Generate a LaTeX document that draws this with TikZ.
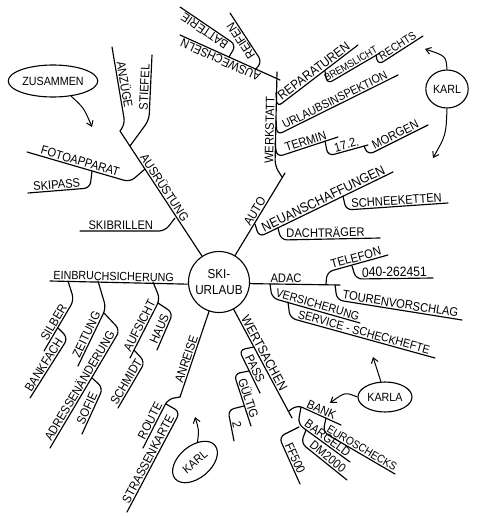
\documentclass[tikz,border=0pt]{standalone}
\usepackage{fontspec}
\setmainfont{Liberation Sans}[FakeStretch=0.9]
\usetikzlibrary{shapes.geometric,arrows.meta}
\tikzset{
  ln/.style={line width=1.15pt, line cap=round, line join=round, rounded corners=6pt},
  lab/.style={sloped, above, inner sep=1.2pt, font=\fontsize{#1}{#1}\selectfont},
  lab/.default=12.4,
  bub/.style={ellipse, draw, line width=1.1pt, inner sep=1pt, font=\fontsize{11.9}{11.9}\selectfont},
  arr/.style={line width=1pt, -{Straight Barb[length=5pt,width=7pt]}},
}
\begin{document}
\begin{tikzpicture}[x=1pt,y=-1pt]
\useasboundingbox (0,0) rectangle (477,516);
\node[circle, draw, line width=1.1pt, minimum size=61pt, inner sep=0pt, align=center,
      font=\fontsize{13}{16}\selectfont] (C) at (219,282) {SKI-\\URLAUB};

% ---------- AUSRUESTUNG ----------
\coordinate (ausT) at (120,131);
\draw[ln] (ausT) -- node[lab,pos=0.48] (tAus) {AUSRÜSTUNG} (C);
\coordinate (anzE) at (112,47); \coordinate (anzP) at (125,124);
\draw[ln] (anzE) -- node[lab] (tAnz) {ANZÜGE} (anzP) -- (ausT);
\coordinate (stiE) at (152,55); \coordinate (stiP) at (149,120); \coordinate (stiJ) at (130,146);
\draw[ln] (stiE) -- node[lab] (tSti) {STIEFEL} (stiP) -- (stiJ);
\coordinate (fotE) at (27,152); \coordinate (fotP) at (130,182); \coordinate (fotJ) at (145,169);
\draw[ln] (fotE) -- node[lab,pos=0.5] (tFot) {FOTOAPPARAT} (fotP) -- (fotJ);
\coordinate (skpE) at (28,193); \coordinate (skpP) at (90,188); \coordinate (skpJ) at (92,171);
\draw[ln] (skpE) -- node[lab,pos=0.47] (tSkp) {SKIPASS} (skpP) -- (skpJ);
\coordinate (skbE) at (80,231); \coordinate (skbP) at (165,231); \coordinate (skbJ) at (175,218);
\draw[ln] (skbE) -- node[lab,pos=0.48] (tSkb) {SKIBRILLEN} (skbP) -- (skbJ);

\node[bub, minimum width=76pt, minimum height=32pt] (zus) at (53,81) {ZUSAMMEN};
\coordinate (zusA) at (92,127);
\draw[arr] (zus.-40) .. controls (84,108) .. (zusA);

% ---------- EINBRUCHSICHERUNG ----------
\coordinate (einE) at (50,281);
\draw[ln] (einE) -- node[lab=11.9,pos=0.46] (tEin) {EINBRUCHSICHERUNG} (C.184);
\coordinate (silJ) at (68,281); \coordinate (silP) at (74,300); \coordinate (silE) at (44,351);
\draw[ln] (silE) -- node[lab] (tSil) {SILBER} (silP) -- (silJ);
\coordinate (bfJ) at (58,328); \coordinate (bfP) at (68,338); \coordinate (bfE) at (30,398);
\draw[ln] (bfE) -- node[lab] (tBf) {BANKFACH} (bfP) -- (bfJ);
\coordinate (zeiJ) at (98,281); \coordinate (zeiP) at (106,308); \coordinate (zeiE) at (78,366);
\draw[ln] (zeiE) -- node[lab] (tZei) {ZEITUNG} (zeiP) -- (zeiJ);
\coordinate (adrJ) at (104,313); \coordinate (adrP) at (120,330); \coordinate (adrE) at (50,448);
\draw[ln] (adrE) -- node[lab] (tAdr) {ADRESSENÄNDERUNG} (adrP) -- (adrJ);
\coordinate (sofJ) at (92,378); \coordinate (sofP) at (103,388); \coordinate (sofE) at (82,434);
\draw[ln] (sofE) -- node[lab] (tSof) {SOFIE} (sofP) -- (sofJ);
\coordinate (aufJ) at (153,282); \coordinate (aufP) at (160,299); \coordinate (aufE) at (130,358);
\draw[ln] (aufE) -- node[lab] (tAuf) {AUFSICHT} (aufP) -- (aufJ);
\coordinate (hauJ) at (158,303); \coordinate (hauP) at (173,313); \coordinate (hauE) at (157,350);
\draw[ln] (hauE) -- node[lab] (tHau) {HAUS} (hauP) -- (hauJ);
\coordinate (schJ) at (134,350); \coordinate (schP) at (145,362); \coordinate (schE) at (118,408);
\draw[ln] (schE) -- node[lab] (tSch) {SCHMIDT} (schP) -- (schJ);

% ---------- ANREISE ----------
\coordinate (anrE) at (180,397);
\draw[ln] (anrE) -- node[lab,pos=0.42] (tAnr) {ANREISE} (C);
\coordinate (rouP) at (168,399); \coordinate (rouE) at (143,448);
\draw[ln] (rouE) -- node[lab] (tRou) {ROUTE} (rouP) -- (anrE);
\coordinate (strJ) at (166,404); \coordinate (strP) at (180,412); \coordinate (strE) at (127,512);
\draw[ln] (strE) -- node[lab] (tStr) {STRASSENKARTE} (strP) -- (strJ);

\node[bub, rotate=40, minimum width=52pt, minimum height=32pt] (karlB) at (195,462) {KARL};
\coordinate (kbA) at (195,417);
\draw[arr] (karlB) .. controls (199,430) .. (kbA);

% ---------- WERTSACHEN ----------
\coordinate (wertE) at (292,418);
\draw[ln] (C) -- node[lab=13,pos=0.43] (tWer) {WERTSACHEN} (wertE);
\coordinate (pasJ) at (254,347); \coordinate (pasP) at (239,350); \coordinate (pasE) at (260,393);
\draw[ln] (pasJ) -- (pasP) -- node[lab] (tPas) {PASS} (pasE);
\coordinate (gulJ) at (249,371); \coordinate (gulP) at (234,374); \coordinate (gulE) at (251,426);
\draw[ln] (gulJ) -- (gulP) -- node[lab] (tGul) {GÜLTIG} (gulE);
\coordinate (zwJ) at (244,406); \coordinate (zwP) at (228,410); \coordinate (zwE) at (234,441);
\draw[ln] (zwJ) -- (zwP) -- node[lab] (tZw) {2} (zwE);

\coordinate (bnkJ) at (289,411); \coordinate (bnkP) at (297,405); \coordinate (bnkE) at (341,425);
\draw[ln] (bnkJ) -- (bnkP) -- node[lab] (tBnk) {BANK} (bnkE);
\coordinate (eurJ) at (326,418); \coordinate (eurP) at (323,432); \coordinate (eurE) at (395,474);
\draw[ln] (eurJ) -- (eurP) -- node[lab=11.3] (tEur) {EUROSCHECKS} (eurE);
\coordinate (barJ) at (301,407); \coordinate (barP) at (298,424); \coordinate (barE) at (350,462);
\draw[ln] (barJ) -- (barP) -- node[lab] (tBar) {BARGELD} (barE);
\coordinate (dmJ) at (306,430); \coordinate (dmP) at (301,443); \coordinate (dmE) at (347,480);
\draw[ln] (dmJ) -- (dmP) -- node[lab] (tDm) {DM2000} (dmE);
\coordinate (ffJ) at (299,427); \coordinate (ffP) at (279,437); \coordinate (ffE) at (300,484);
\draw[ln] (ffJ) -- (ffP) -- node[lab] (tFf) {FF500} (ffE);

% ---------- ADAC ----------
\coordinate (adacE) at (340,285);
\draw[ln] (C.-3) -- node[lab,pos=0.4] (tAdac) {ADAC} (adacE);
\coordinate (telJ) at (326,284); \coordinate (telP) at (327,272); \coordinate (telE) at (388,255);
\draw[ln] (telJ) -- (telP) -- node[lab] (tTel) {TELEFON} (telE);
\coordinate (numJ) at (352,266); \coordinate (numP) at (356,279); \coordinate (numE) at (433,278);
\draw[ln] (numJ) -- (numP) -- node[lab=13.5] (tNum) {040-262451} (numE);
\coordinate (touJ) at (335,285); \coordinate (touP) at (337,300); \coordinate (touE) at (462,320);
\draw[ln] (touJ) -- (touP) -- node[lab] (tTou) {TOURENVORSCHLAG} (touE);
\coordinate (verJ) at (270,284); \coordinate (verP) at (272,298); \coordinate (verE) at (360,323);
\draw[ln] (verJ) -- (verP) -- node[lab=11.9] (tVer) {VERSICHERUNG} (verE);
\coordinate (serJ) at (288,302); \coordinate (serP) at (290,318); \coordinate (serE) at (435,358);
\draw[ln] (serJ) -- (serP) -- node[lab=11.9] (tSer) {SERVICE - SCHECKHEFTE} (serE);

\node[bub, minimum width=54pt, minimum height=30pt] (karla) at (385,397) {KARLA};
\coordinate (kaA1) at (373,357); \coordinate (kaA2) at (330,403);
\draw[arr] (karla.105) -- (kaA1);
\draw[arr] (karla.west) .. controls (345,392) .. (kaA2);

% ---------- AUTO ----------
\coordinate (autoT) at (285,173);
\draw[ln] (C) -- node[lab,pos=0.5] (tAuto) {AUTO} (autoT);
\coordinate (neuJ) at (255,224); \coordinate (neuP) at (259,237); \coordinate (neuE) at (393,172);
\draw[ln] (neuJ) -- (neuP) -- node[lab=13.5] (tNeu) {NEUANSCHAFFUNGEN} (neuE);
\coordinate (schnJ) at (343,196); \coordinate (schnP) at (346,210); \coordinate (schnE) at (448,203);
\draw[ln] (schnJ) -- (schnP) -- node[lab] (tSchn) {SCHNEEKETTEN} (schnE);
\coordinate (daJ) at (278,228); \coordinate (daP) at (281,240); \coordinate (daE) at (380,238);
\draw[ln] (daJ) -- (daP) -- node[lab,pos=0.45] (tDa) {DACHTRÄGER} (daE);

% ---------- WERKSTATT ----------
\coordinate (wkJ) at (282,177); \coordinate (wkP) at (275,166); \coordinate (wkT) at (277,72);
\draw[ln] (wkJ) -- (wkP) -- node[lab,pos=0.38] (tWk) {WERKSTATT} (wkT);
\coordinate (repJ) at (276,93); \coordinate (repP) at (277,107); \coordinate (repE) at (358,45);
\draw[ln] (repJ) -- (repP) -- node[lab=13] (tRep) {REPARATUREN} (repE);
\coordinate (breJ) at (325,71); \coordinate (breP) at (327,84); \coordinate (breE) at (380,53);
\draw[ln] (breJ) -- (breP) -- node[lab=10.3] (tBre) {BREMSLICHT} (breE);
\coordinate (recJ) at (376,55); \coordinate (recP) at (378,65); \coordinate (recE) at (423,36);
\draw[ln] (recJ) -- (recP) -- node[lab=11.3] (tRec) {RECHTS} (recE);
\coordinate (urlJ) at (276,121); \coordinate (urlP) at (277,135); \coordinate (urlE) at (398,75);
\draw[ln] (urlJ) -- (urlP) -- node[lab=11.9] (tUrl) {URLAUBSINSPEKTION} (urlE);
\coordinate (terJ) at (275,143); \coordinate (terP) at (277,157); \coordinate (terE) at (338,137);
\draw[ln] (terJ) -- (terP) -- node[lab] (tTer) {TERMIN} (terE);
\coordinate (sieJ) at (325,141); \coordinate (sieP) at (328,156); \coordinate (sieE) at (368,145);
\draw[ln] (sieJ) -- (sieP) -- node[lab] (tSie) {17.2.} (sieE);
\coordinate (morJ) at (364,146); \coordinate (morP) at (368,155); \coordinate (morE) at (428,125);
\draw[ln] (morJ) -- (morP) -- node[lab] (tMor) {MORGEN} (morE);

% ---------- AUSWECHSELN ----------
\coordinate (aswJ) at (280,80); \coordinate (aswE) at (180,35);
\draw[ln] (aswJ) -- node[lab, allow upside down, pos=0.57] (tAsw) {AUSWECHSELN} (aswE);
\coordinate (batJ) at (229,57); \coordinate (batP) at (236,45); \coordinate (batE) at (180,7);
\draw[ln] (batJ) -- (batP) -- node[lab, allow upside down] (tBat) {BATTERIE} (batE);
\coordinate (reiJ) at (255,70); \coordinate (reiP) at (262,62); \coordinate (reiE) at (230,13);
\draw[ln] (reiJ) -- (reiP) -- node[lab, allow upside down] (tRei) {REIFEN} (reiE);

\node[bub, minimum width=42pt, minimum height=38pt] (karlT) at (447,89) {KARL};
\coordinate (ktA1) at (425,49); \coordinate (ktA2) at (433,158);
\draw[arr] (karlT.north) .. controls (446,56) .. (ktA1);
\draw[arr] (karlT.south) .. controls (446,135) .. (ktA2);
\end{tikzpicture}
\end{document}
